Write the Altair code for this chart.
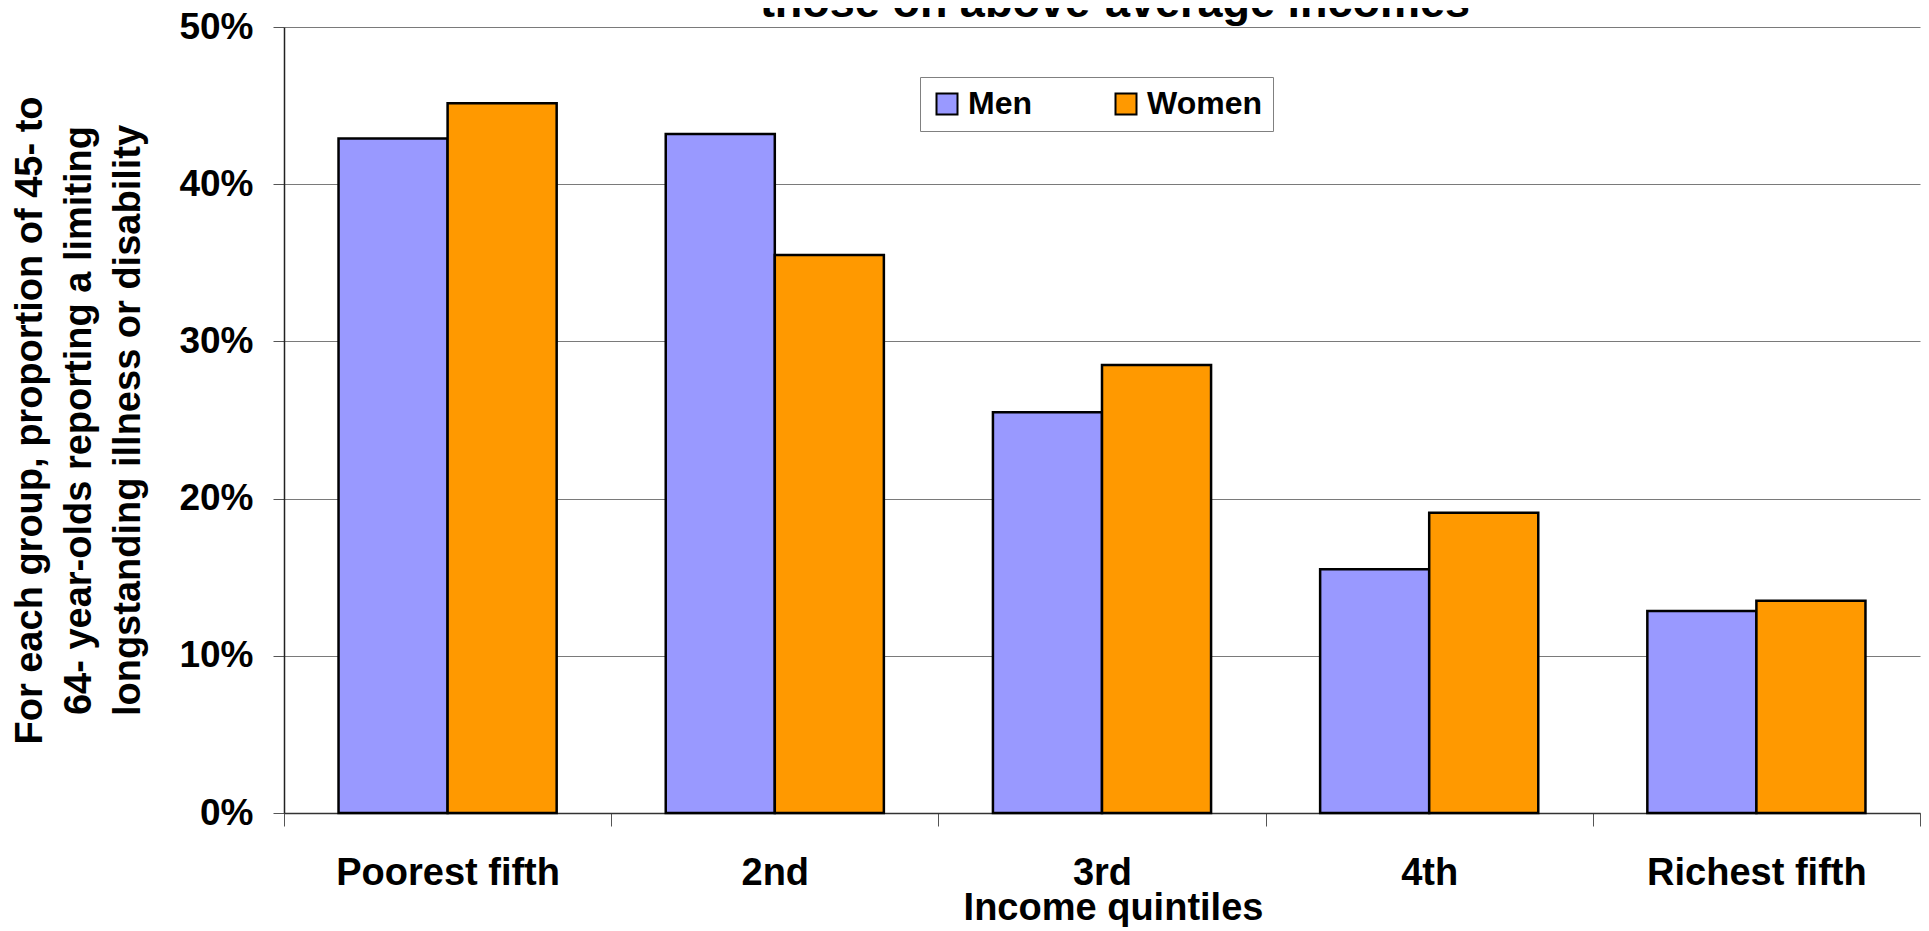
import altair as alt
import pandas as pd

categories = ["Poorest fifth", "2nd", "3rd", "4th", "Richest fifth"]
men = [0.429, 0.432, 0.255, 0.155, 0.1285]
women = [0.4515, 0.355, 0.285, 0.191, 0.135]
series = ["Men", "Women"]
colors = ["#9999FF", "#FF9900"]
y_ticks = [0.0, 0.1, 0.2, 0.3, 0.4, 0.5]
title_line = "those on above-average incomes"
y_title = ["For each group, proportion of 45- to",
           "64- year-olds reporting a limiting",
           "longstanding illness or disability"]
x_title = "Income quintiles"

rows = []
for i, c in enumerate(categories):
    rows.append({"quintile": c, "sex": "Men", "value": men[i]})
    rows.append({"quintile": c, "sex": "Women", "value": women[i]})
df = pd.DataFrame(rows)

FONT = "Liberation Sans"

bars = alt.Chart(df).mark_bar(stroke="#000000", strokeWidth=2.5).encode(
    x=alt.X("quintile:N", sort=categories,
            scale=alt.Scale(paddingInner=0, paddingOuter=0),
            axis=alt.Axis(title=x_title, labelAngle=0, tickBand="extent",
                          tickSize=13, labelPadding=28, labelFontSize=38,
                          labelLimit=600,
                          labelFont=FONT, labelFontWeight="bold", labelColor="#000000",
                          titleFont=FONT, titleFontSize=38, titleFontWeight="bold",
                          titleColor="#000000", titleBaseline="alphabetic",
                          titleX=829, titleY=106,
                          domainColor="#333333", domainWidth=1.5,
                          tickColor="#555555", tickWidth=1, grid=False)),
    xOffset=alt.XOffset("sex:N", sort=series,
                        scale=alt.Scale(paddingInner=0, paddingOuter=0.5)),
    y=alt.Y("value:Q", scale=alt.Scale(domain=[0, 0.5], nice=False),
            axis=alt.Axis(title=y_title, values=y_ticks, format=".0%",
                          tickSize=11, labelPadding=20, labelFontSize=37,
                          labelFont=FONT, labelFontWeight="bold", labelColor="#000000",
                          titleFont=FONT, titleFontSize=38, titleFontWeight="bold",
                          titleColor="#000000", titleLineHeight=49, titleLimit=1000,
                          titleX=-235, titleY=393, titleBaseline="bottom",
                          domainColor="#222222", domainWidth=1.5,
                          tickColor="#555555", grid=True, gridColor="#7a7a7a",
                          gridWidth=1)),
    fill=alt.Fill("sex:N", sort=series,
                  scale=alt.Scale(domain=series, range=colors),
                  legend=alt.Legend(title=None, orient="none", legendX=636, legendY=50,
                                    direction="horizontal", symbolType="square",
                                    symbolSize=441, symbolStrokeColor="#000000",
                                    symbolStrokeWidth=2, symbolOpacity=1,
                                    labelFont=FONT, labelFontSize=32,
                                    labelFontWeight="bold", labelColor="#000000",
                                    labelOffset=5, columnPadding=78, padding=11,
                                    strokeColor="#808080", fillColor="#FFFFFF")),
)

title_df = pd.DataFrame({"t": [title_line]})
title = alt.Chart(title_df).mark_text(
    font=FONT, fontSize=45, fontWeight="bold", color="#000000",
    align="center", baseline="alphabetic"
).encode(text="t:N", x=alt.value(831), y=alt.value(-10))

chart = alt.layer(bars, title).properties(
    width=1636, height=786,
    autosize=alt.AutoSizeParams(type="none"),
    padding={"left": 276, "top": 19, "right": 1, "bottom": 114},
    background="#FFFFFF",
).configure_view(stroke=None)

chart.save("out.html", embed_options={"renderer": "svg", "actions": False})
